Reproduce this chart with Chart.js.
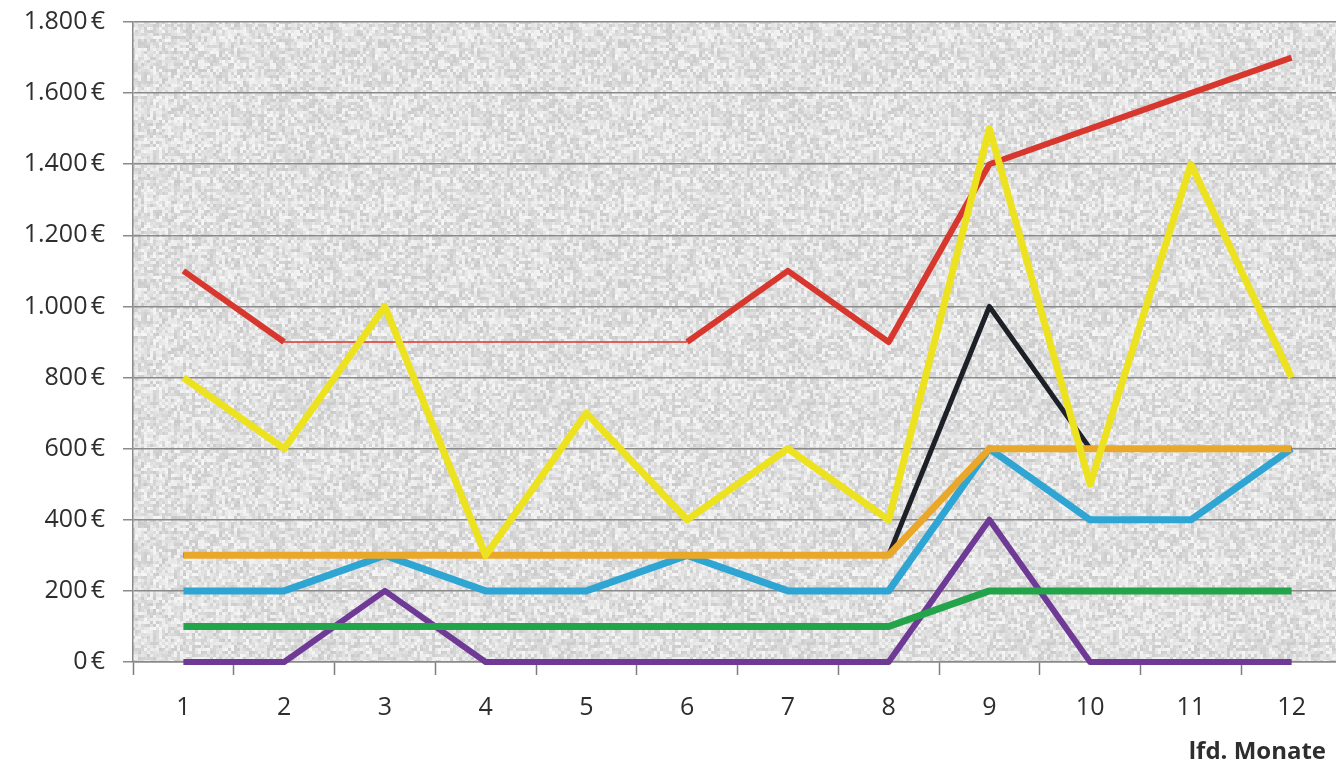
<!DOCTYPE html>
<html>
<head>
<meta charset="utf-8">
<script src="https://cdn.jsdelivr.net/npm/chart.js@4.4.1/dist/chart.umd.min.js"></script>
<style>
  html, body { margin: 0; padding: 0; background: #fff; overflow: hidden; }
  #wrap { width: 1344px; height: 771px; }
</style>
</head>
<body>
<div id="wrap"><canvas id="chart" width="1344" height="771"></canvas></div>
<script>
// Monatswerte (lfd. Monate 1..12)
const months = ['1', '2', '3', '4', '5', '6', '7', '8', '9', '10', '11', '12'];
const yTicks = [0, 200, 400, 600, 800, 1000, 1200, 1400, 1600, 1800];

const yellowVals = [800, 600, 1000, 300, 700, 400, 600, 400, 1500, 500, 1400, 800];
const orangeVals = [300, 300, 300, 300, 300, 300, 300, 300, 600, 600, 600, 600];
const blackVals  = [300, 300, 300, 300, 300, 300, 300, 300, 1000, 600, 600, 600];
const redVals    = [1100, 900, 900, 900, 900, 900, 1100, 900, 1400, 1500, 1600, 1700];
const blueVals   = [200, 200, 300, 200, 200, 300, 200, 200, 600, 400, 400, 600];
const greenVals  = [100, 100, 100, 100, 100, 100, 100, 100, 200, 200, 200, 200];
const purpleVals = [0, 0, 200, 0, 0, 0, 0, 0, 400, 0, 0, 0];

const FONT = "'Open Sans', 'DejaVu Sans', sans-serif";

// grey speckled background like the original spreadsheet fill
function makeTexture() {
  const N = 240, C = 3, M = N / C;
  const c = document.createElement('canvas');
  c.width = N; c.height = N;
  const g = c.getContext('2d');
  const img = g.createImageData(N, N);
  let seed = 4242;
  const next = () => { seed = (seed * 1103515245 + 12345) & 0x7fffffff; return seed / 0x7fffffff; };
  const cells = [];
  for (let i = 0; i < M * M; i++) cells.push(next());
  for (let y = 0; y < N; y++) {
    for (let x = 0; x < N; x++) {
      const cv = cells[Math.floor(y / C) * M + Math.floor(x / C)];
      const v = Math.round(202 + cv * 44 + (next() - 0.5) * 8);
      const k = (y * N + x) * 4;
      img.data[k] = v; img.data[k + 1] = v; img.data[k + 2] = v; img.data[k + 3] = 255;
    }
  }
  g.putImageData(img, 0, 0);
  return c;
}

const bgPlugin = {
  id: 'bgTexture',
  beforeDraw(chart) {
    const { ctx, chartArea: a } = chart;
    ctx.save();
    ctx.fillStyle = ctx.createPattern(makeTexture(), 'repeat');
    ctx.fillRect(a.left, a.top, a.right - a.left, a.bottom - a.top);
    ctx.restore();
  },
  afterDraw(chart) {
    const ctx = chart.ctx;
    ctx.save();
    ctx.font = "bold 24px " + FONT;
    ctx.fillStyle = '#2e2e2e';
    ctx.textAlign = 'right';
    ctx.textBaseline = 'middle';
    ctx.fillText('lfd. Monate', 1326, 752);
    ctx.restore();
  }
};

function line(data, color, width) {
  return {
    data: data,
    borderColor: color,
    borderWidth: width,
    pointRadius: 0,
    pointHoverRadius: 0,
    tension: 0,
    fill: false,
    clip: 8,
    borderJoinStyle: 'round',
    borderCapStyle: 'butt'
  };
}

const red = line(redVals, '#d8372e', 6);
// thin stretch between month 2 and 6
red.segment = {
  borderWidth: c => (c.p0DataIndex >= 1 && c.p1DataIndex <= 5) ? 1.5 : 6
};

// first dataset is drawn on top
const datasets = [
  line(yellowVals, '#ede220', 7),
  line(orangeVals, '#eaa82b', 7),
  line(blackVals, '#1d2127', 5),
  red,
  line(blueVals, '#2ea5d3', 7),
  line(greenVals, '#23a34a', 7),
  line(purpleVals, '#6f3a95', 6)
];

new Chart(document.getElementById('chart'), {
  type: 'line',
  data: { labels: months, datasets: datasets },
  plugins: [bgPlugin],
  options: {
    responsive: false,
    animation: false,
    events: [],
    layout: { padding: { top: 22, right: 2, left: 0, bottom: 0 } },
    plugins: { legend: { display: false }, tooltip: { enabled: false } },
    scales: {
      x: {
        offset: true,
        afterFit: s => { s.height = 109; },
        grid: {
          offset: true,
          drawOnChartArea: false,
          drawTicks: true,
          tickLength: 13,
          tickColor: '#7d7d7d',
          tickWidth: 1.5
        },
        border: { display: true, color: '#8a8a8a', width: 1.5 },
        ticks: { color: '#2e2e2e', padding: 18, font: { family: FONT, size: 25 } }
      },
      y: {
        min: 0,
        max: 1800,
        afterFit: s => { s.width = 133; s.paddingTop = 0; s.paddingBottom = 0; },
        afterBuildTicks: s => { s.ticks = yTicks.map(v => ({ value: v })); },
        grid: {
          color: '#8a8a8a',
          lineWidth: 1.5,
          tickLength: 10,
          tickColor: '#8a8a8a'
        },
        border: { display: true, color: '#8a8a8a', width: 1.5 },
        ticks: {
          color: '#2e2e2e',
          padding: 18,
          font: { family: FONT, size: 25 },
          callback: v => v.toLocaleString('de-DE') + '\u202F€'
        }
      }
    }
  }
});
</script>
</body>
</html>
